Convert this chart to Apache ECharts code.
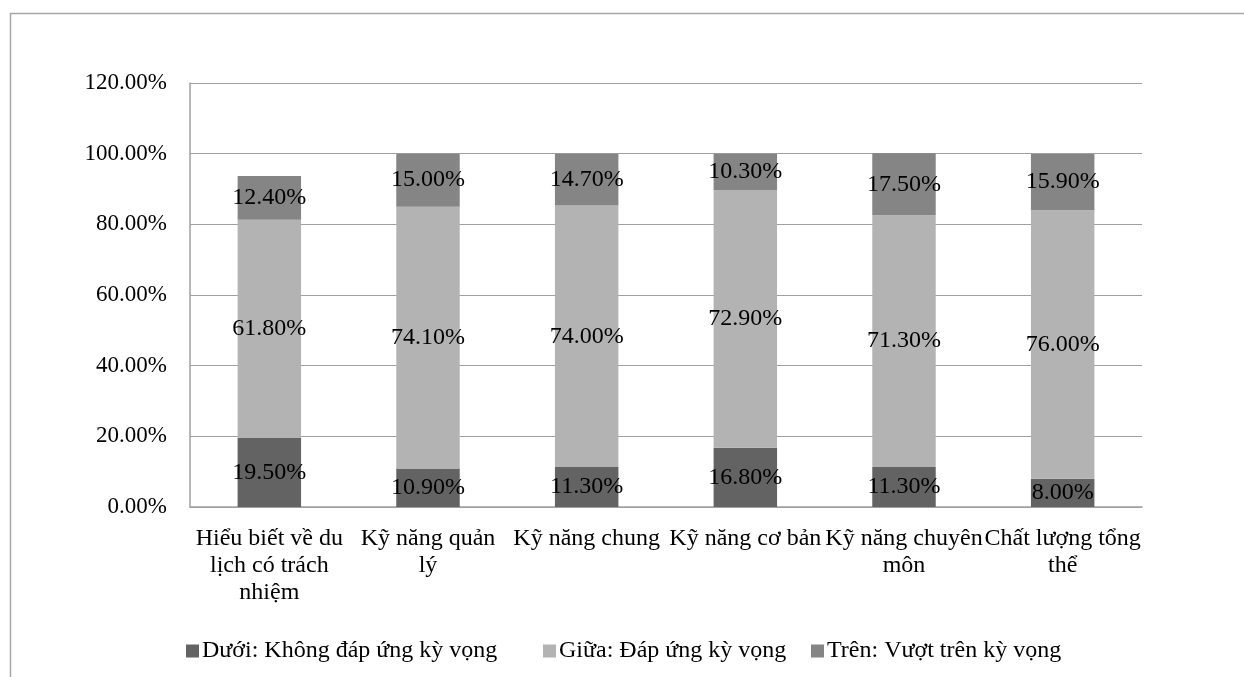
<!DOCTYPE html>
<html>
<head>
<meta charset="utf-8">
<script src="https://cdn.jsdelivr.net/npm/echarts@6/dist/echarts.min.js"></script>
<style>
  html, body { margin: 0; padding: 0; background: #ffffff; }
  #chart { width: 1244px; height: 677px; }
</style>
</head>
<body>
<div id="chart"></div>
<script>
// Skill areas assessed
const categories = [
  'Hiểu biết về du lịch có trách nhiệm',
  'Kỹ năng quản lý',
  'Kỹ năng chung',
  'Kỹ năng cơ bản',
  'Kỹ năng chuyên môn',
  'Chất lượng tổng thể'
];

// Category tick labels, wrapped into lines
const categoryTickLabels = [
  'Hiểu biết về du\nlịch có trách\nnhiệm',
  'Kỹ năng quản\nlý',
  'Kỹ năng chung',
  'Kỹ năng cơ bản',
  'Kỹ năng chuyên\nmôn',
  'Chất lượng tổng\nthể'
];

// Share of responses per level (%)
const seriesNames = [
  'Dưới: Không đáp ứng kỳ vọng',
  'Giữa: Đáp ứng kỳ vọng',
  'Trên: Vượt trên kỳ vọng'
];
const belowValues = [19.5, 10.9, 11.3, 16.8, 11.3, 8.0];
const meetValues  = [61.8, 74.1, 74.0, 72.9, 71.3, 76.0];
const aboveValues = [12.4, 15.0, 14.7, 10.3, 17.5, 15.9];

// Value axis ticks (%)
const yTicks = [0, 20, 40, 60, 80, 100, 120];

const FONT = '"Liberation Serif", "Times New Roman", "DejaVu Serif", serif';
const colors = ['#636363', '#b3b3b3', '#858585'];

const pct = v => Number(v).toFixed(2) + '%';

function makeSeries(name, data, color) {
  return {
    name: name,
    type: 'bar',
    stack: 'total',
    data: data,
    barWidth: '40%',
    itemStyle: { color: color },
    label: {
      show: true,
      position: 'inside',
      color: '#000000',
      fontFamily: FONT,
      fontSize: 24,
      formatter: p => pct(p.value)
    }
  };
}

function makeLegend(name, left) {
  return {
    data: [name],
    left: left,
    top: 639,
    padding: 0,
    itemWidth: 13,
    itemHeight: 13,
    itemGap: 0,
    icon: 'rect',
    textStyle: { fontFamily: FONT, fontSize: 24, color: '#000000', padding: [0, 0, 0, -2] },
    selectedMode: false
  };
}

const chart = echarts.init(document.getElementById('chart'), null, { renderer: 'canvas' });

chart.setOption({
  animation: false,
  backgroundColor: '#ffffff',
  textStyle: { fontFamily: FONT },
  graphic: [{
    type: 'rect',
    shape: { x: 10.5, y: 13.5, width: 1400, height: 800 },
    style: { fill: 'none', stroke: '#a6a6a6', lineWidth: 1.5 },
    silent: true,
    z: -10
  }],
  legend: [
    makeLegend(seriesNames[0], 186),
    makeLegend(seriesNames[1], 543),
    makeLegend(seriesNames[2], 811)
  ],
  grid: { left: 190, right: 102, top: 83, bottom: 170, containLabel: false },
  xAxis: {
    type: 'category',
    data: categories,
    axisLine: { show: true, lineStyle: { color: '#a0a0a0', width: 1.5 } },
    axisTick: { show: false },
    axisLabel: {
      interval: 0,
      margin: 18,
      color: '#000000',
      fontFamily: FONT,
      fontSize: 24,
      lineHeight: 27,
      formatter: (v, i) => categoryTickLabels[i]
    }
  },
  yAxis: {
    type: 'value',
    min: yTicks[0],
    max: yTicks[yTicks.length - 1],
    interval: yTicks[1] - yTicks[0],
    axisLine: { show: true, lineStyle: { color: '#a0a0a0', width: 1.5 } },
    axisTick: { show: false },
    splitLine: { show: true, lineStyle: { color: '#a0a0a0', width: 1.2 } },
    axisLabel: {
      margin: 23,
      color: '#000000',
      fontFamily: FONT,
      fontSize: 23,
      formatter: v => pct(v)
    }
  },
  series: [
    makeSeries(seriesNames[0], belowValues, colors[0]),
    makeSeries(seriesNames[1], meetValues, colors[1]),
    makeSeries(seriesNames[2], aboveValues, colors[2])
  ]
});
</script>
</body>
</html>
